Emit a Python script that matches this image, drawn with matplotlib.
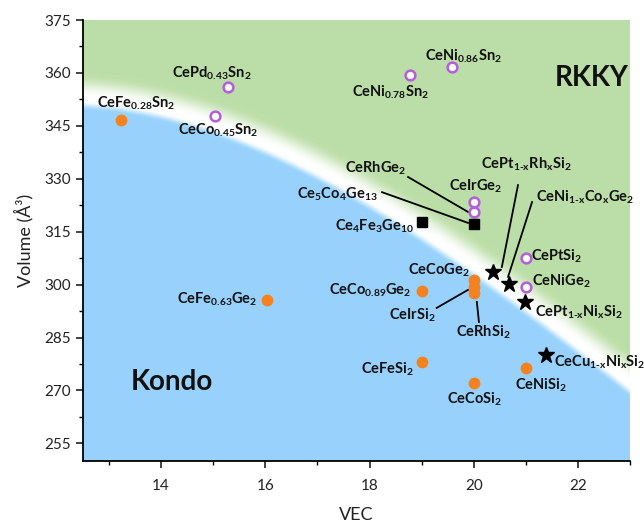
import numpy as np
import matplotlib
matplotlib.use('Agg')
import matplotlib.pyplot as plt
from matplotlib.colors import to_rgb
from matplotlib.ticker import MultipleLocator

plt.rcParams['font.family'] = ['Lato', 'DejaVu Sans']
plt.rcParams['mathtext.fontset'] = 'custom'
plt.rcParams['mathtext.rm'] = 'Lato:bold'
plt.rcParams['mathtext.it'] = 'Lato:bold'
plt.rcParams['mathtext.bf'] = 'Lato:bold'

# ---------------- data ----------------
kondo_names = ["CeFe$_{0.28}$Sn$_2$", "CeFe$_{0.63}$Ge$_2$", "CeCo$_{0.89}$Ge$_2$",
               "CeCoGe$_2$", "CeIrSi$_2$", "CeRhSi$_2$", "CeFeSi$_2$", "CeCoSi$_2$", "CeNiSi$_2$"]
kondo_vec = [13.23, 16.03, 19.0, 20.0, 20.0, 20.0, 19.0, 20.0, 21.0]
kondo_vol = [346.7, 295.6, 298.2, 301.3, 299.2, 297.6, 278.1, 272.1, 276.4]

rkky_names = ["CePd$_{0.43}$Sn$_2$", "CeCo$_{0.45}$Sn$_2$", "CeNi$_{0.78}$Sn$_2$",
              "CeNi$_{0.86}$Sn$_2$", "CeIrGe$_2$", "CeRhGe$_2$", "CePtSi$_2$", "CeNiGe$_2$"]
rkky_vec = [15.28, 15.03, 18.78, 19.58, 20.0, 20.0, 21.0, 21.0]
rkky_vol = [356.0, 347.8, 359.4, 361.7, 323.4, 320.6, 307.5, 299.3]

cage_names = ["Ce$_4$Fe$_3$Ge$_{10}$", "Ce$_5$Co$_4$Ge$_{13}$"]
cage_vec = [19.0, 20.0]
cage_vol = [317.7, 317.2]

alloy_names = ["CePt$_{\\text{1-x}}$Rh$_{\\text{x}}$Si$_2$", "CeNi$_{\\text{1-x}}$Co$_{\\text{x}}$Ge$_2$",
               "CePt$_{\\text{1-x}}$Ni$_{\\text{x}}$Si$_2$", "CeCu$_{\\text{1-x}}$Ni$_{\\text{x}}$Si$_2$"]
alloy_vec = [20.37, 20.68, 20.98, 21.39]
alloy_vol = [303.6, 300.2, 295.1, 280.0]

# crossover (white band) between Kondo and RKKY regions
boundary_vec = [12.5, 14.42, 16.34, 18.2, 19.74, 20.75, 21.66, 23.0]
boundary_vol = [352.9, 346.9, 338.4, 322.6, 306.4, 297.9, 287.4, 271.8]

# ---------------- layout ----------------
XMIN, XMAX, YMIN, YMAX = 12.5, 23.0, 250, 375
fig = plt.figure(figsize=(6.44, 5.27), dpi=100)
ax = fig.add_axes([83/644, 1-461/527, (630-83)/644, (461-20)/527])
ax.set_xlim(XMIN, XMAX)
ax.set_ylim(YMIN, YMAX)

# background gradient
W, H = 547, 441
pxx = W / (XMAX - XMIN)
pxy = H / (YMAX - YMIN)
coef = np.polyfit(boundary_vec, boundary_vol, 3)
dcoef = np.polyder(coef)
gx = np.linspace(XMIN, XMAX, W * 2)
gy = np.linspace(YMIN, YMAX, H * 2)
X, Y = np.meshgrid(gx, gy)
yc = np.polyval(coef, X)
slope = np.polyval(dcoef, X) * pxy / pxx
d = (yc - Y) * pxy / np.sqrt(1 + slope ** 2)

def smooth(t):
    t = np.clip(t, 0, 1)
    return t * t * (3 - 2 * t)

blue = np.array(to_rgb('#98d3fc'))
green = np.array(to_rgb('#bcdea7'))
white = np.ones(3)
fb = smooth((d - 2) / 9)
fg = smooth((-d - 2) / 24)
img = np.where((d > 0)[..., None],
               white + (blue - white) * fb[..., None],
               white + (green - white) * fg[..., None])
ax.imshow(img, extent=(XMIN, XMAX, YMIN, YMAX), origin='lower', aspect='auto', zorder=0,
          interpolation='bilinear')

# markers
ax.plot(kondo_vec, kondo_vol, 'o', color='#f5821f', ms=7.5, mec='#f5821f', zorder=3, clip_on=False)
ax.plot(rkky_vec, rkky_vol, 'o', mfc='white', mec='#b45ddf', mew=1.8, ms=7, zorder=3)
ax.plot(cage_vec, cage_vol, 's', color='black', ms=7, zorder=3)
ax.plot(alloy_vec, alloy_vol, '*', color='black', ms=12, zorder=3)

# labels: (text, x, y, ha)
lab_fs = 10.5
labels = [
    (kondo_names[0], 13.52, 351.5, 'center'),
    (kondo_names[1], 15.07, 295.9, 'center'),
    (kondo_names[2], 18.01, 298.5, 'center'),
    (kondo_names[3], 19.33, 304.1, 'center'),
    (kondo_names[4], 18.83, 291.4, 'center'),
    (kondo_names[5], 20.18, 286.6, 'center'),
    (kondo_names[6], 18.35, 276.1, 'center'),
    (kondo_names[7], 20.02, 267.6, 'center'),
    (kondo_names[8], 21.29, 271.5, 'center'),
    (rkky_names[0], 14.98, 360.0, 'center'),
    (rkky_names[1], 15.09, 343.8, 'center'),
    (rkky_names[2], 18.41, 354.6, 'center'),
    (rkky_names[3], 19.81, 364.8, 'center'),
    (rkky_names[4], 20.04, 327.9, 'center'),
    (rkky_names[5], 18.12, 333.0, 'center'),
    (rkky_names[6], 21.10, 308.1, 'left'),
    (rkky_names[7], 21.12, 301.0, 'left'),
    (cage_names[0], 18.10, 316.6, 'center'),
    (cage_names[1], 17.38, 325.7, 'center'),
    (alloy_names[0], 21.0, 334.2, 'center'),
    (alloy_names[1], 22.14, 324.8, 'center'),
    (alloy_names[2], 21.18, 292.2, 'left'),
    (alloy_names[3], 21.54, 278.1, 'left'),
]
for t, x, y, ha in labels:
    ax.text(x, y, t, ha=ha, va='center', fontsize=lab_fs, fontweight='bold',
            color='#111111', zorder=4, clip_on=False)

# leader lines: (x0, y0) -> (x1, y1)
leaders = [
    ((18.74, 330.5), (19.89, 320.6)),   # CeRhGe2
    ((18.24, 326.2), (19.89, 317.5)),   # Ce5Co4Ge13
    ((20.85, 328.2), (20.54, 305.0)),   # CePt1-xRhxSi2
    ((21.12, 323.4), (20.66, 302.2)),   # CeNi1-xCoxGe2
    ((19.29, 293.4), (19.89, 298.5)),   # CeIrSi2
    ((20.06, 295.1), (20.10, 289.4)),   # CeRhSi2
]
for (x0, y0), (x1, y1) in leaders:
    ax.plot([x0, x1], [y0, y1], color='black', lw=1.3, zorder=2)

ax.text(22.27, 358.6, "RKKY", ha='center', va='center', fontsize=20, fontweight='bold', color='#111111')
ax.text(14.21, 272.4, "Kondo", ha='center', va='center', fontsize=20, fontweight='bold', color='#111111')

# axes styling
for s in ['top', 'right']:
    ax.spines[s].set_visible(False)
for s in ['left', 'bottom']:
    ax.spines[s].set_linewidth(1.3)
ax.set_xticks([14, 16, 18, 20, 22])
ax.set_yticks([255, 270, 285, 300, 315, 330, 345, 360, 375])
ax.xaxis.set_minor_locator(MultipleLocator(1))
ax.yaxis.set_minor_locator(MultipleLocator(7.5))
ax.tick_params(which='major', direction='out', length=5, width=1.2, labelsize=11, colors='#222222')
ax.tick_params(which='minor', direction='out', length=3, width=1.0)
ax.tick_params(axis='x', pad=8)
ax.set_xlabel("VEC", fontsize=13, labelpad=10, color='#222222')
ax.set_ylabel("Volume (Å³)", fontsize=13, labelpad=8, color='#222222')

fig.savefig('out.png', dpi=100)
